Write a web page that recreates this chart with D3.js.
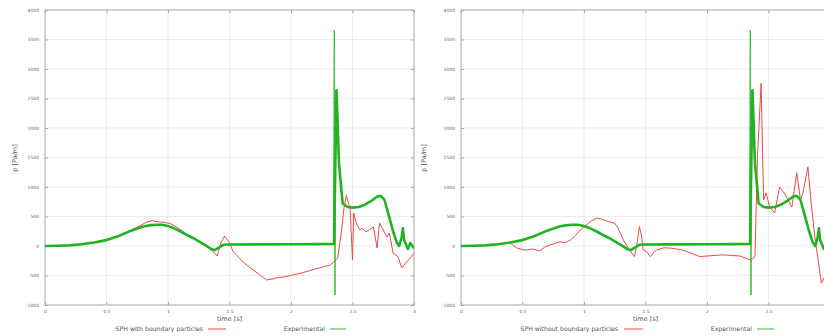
<!DOCTYPE html>
<html><head><meta charset="utf-8">
<script src="https://cdn.jsdelivr.net/npm/d3@7"></script>
<style>body{margin:0;background:#fff}svg{display:block}</style>
</head><body>
<script>
const xTicks = [0, 0.5, 1, 1.5, 2, 2.5, 3];
const xTickLabels = ["0", "0.5", "1", "1.5", "2", "2.5", "3"];
const yTicks = [-1000, -500, 0, 500, 1000, 1500, 2000, 2500, 3000, 3500, 4000];
const yTickLabels = ["-1000", "-500", "0", "500", "1000", "1500", "2000", "2500", "3000", "3500", "4000"];
const panelNames = ["SPH with boundary particles", "SPH without boundary particles"];
const expName = "Experimental";
const xTitle = "time [s]";
const yTitle = "p [Pa/m]";

// Experimental (shared by both panels)
const expT = [0,0.1,0.2,0.3,0.4,0.5,0.6,0.7,0.8,0.85,0.9,0.95,1.0,1.05,1.1,1.15,1.2,1.25,1.3,1.35,1.38,1.42,1.45,1.5,1.7,2.0,2.2,2.34,2.35,2.37,2.39,2.42,2.46,2.5,2.55,2.6,2.65,2.7,2.73,2.76,2.8,2.83,2.86,2.88,2.9,2.91,2.92,2.95,2.97,3.0];
const expP = [0,5,10,30,60,100,170,260,330,350,360,360,340,300,250,190,140,80,20,-50,-70,-20,20,25,28,30,32,35,35,2640,1400,720,660,650,660,700,760,840,850,780,480,250,60,0,150,300,100,-50,50,-40];
// Experimental raw spike samples (thin line)
const spikeT = [2.345, 2.352, 2.358, 2.364, 2.37];
const spikeP = [35, 3660, -830, 2640, 2640];

// SPH with boundary particles
const withT = [0,0.2,0.4,0.5,0.6,0.7,0.78,0.82,0.87,0.92,0.97,1.02,1.08,1.15,1.22,1.3,1.36,1.40,1.43,1.46,1.5,1.53,1.58,1.61,1.65,1.69,1.75,1.80,1.85,1.88,1.95,2.02,2.1,2.18,2.25,2.32,2.36,2.38,2.41,2.43,2.45,2.47,2.48,2.5,2.51,2.53,2.56,2.58,2.61,2.64,2.67,2.70,2.72,2.75,2.78,2.80,2.83,2.87,2.90,2.94,2.97,3.0];
const withP = [0,10,60,110,180,270,350,400,430,410,400,380,310,200,120,30,-80,-170,50,170,60,-100,-200,-270,-340,-400,-500,-575,-560,-540,-520,-490,-450,-400,-360,-320,-250,-200,240,640,860,700,660,-240,560,390,270,300,240,280,320,-35,390,270,150,220,-120,-180,-370,-270,-200,-120];

// SPH without boundary particles
const withoutT = [0,0.2,0.35,0.40,0.43,0.455,0.5,0.53,0.58,0.64,0.68,0.72,0.76,0.80,0.85,0.89,0.93,0.97,1.01,1.05,1.1,1.12,1.16,1.21,1.25,1.27,1.30,1.32,1.35,1.37,1.41,1.43,1.45,1.47,1.48,1.51,1.54,1.57,1.59,1.65,1.70,1.75,1.80,1.87,1.94,2.0,2.13,2.2,2.27,2.33,2.36,2.39,2.41,2.44,2.46,2.48,2.51,2.55,2.59,2.62,2.66,2.69,2.73,2.76,2.78,2.82,2.85,2.88,2.90,2.93,2.96,3.0];
const withoutP = [0,10,40,50,0,-35,-60,-70,-50,-85,-20,15,40,70,60,100,180,270,340,410,470,470,440,410,380,330,200,100,0,-70,-180,20,330,150,-60,-100,-180,-100,-70,-30,-35,-50,-70,-120,-180,-170,-150,-160,-170,-220,-240,-180,1500,2760,780,900,660,560,1000,920,780,660,1240,780,900,1340,660,100,-180,-630,-500,-300];

const W = 824, H = 336;
const svg = d3.select("body").append("svg").attr("width", W).attr("height", H)
  .style("font-family", "DejaVu Sans, sans-serif");

const panels = [
  {x0: 45, x1: 414, red: [withT, withP], name: panelNames[0], ylab: 17,
   legText: 203, legLine: [208, 226], expText: 325, expLine: [330, 346]},
  {x0: 461, x1: 830, red: [withoutT, withoutP], name: panelNames[1], ylab: 426,
   legText: 618, legLine: [624, 643], expText: 752, expLine: [757, 774]}
];
const yTop = 10, yBot = 305;

panels.forEach((p, i) => {
  const x = d3.scaleLinear().domain([0, 3]).range([p.x0, p.x1]);
  const y = d3.scaleLinear().domain([-1000, 4000]).range([yBot, yTop]);
  const g = svg.append("g");
  const cid = "clip" + i;
  svg.append("clipPath").attr("id", cid).append("rect")
    .attr("x", p.x0).attr("y", yTop).attr("width", p.x1 - p.x0).attr("height", yBot - yTop);

  // grid
  g.selectAll(".gx").data(xTicks.slice(1, -1)).join("line")
    .attr("x1", d => x(d)).attr("x2", d => x(d)).attr("y1", yTop).attr("y2", yBot)
    .attr("stroke", "#e4e4e4").attr("stroke-width", 0.7);
  g.selectAll(".gy").data(yTicks.slice(1, -1)).join("line")
    .attr("y1", d => y(d)).attr("y2", d => y(d)).attr("x1", p.x0).attr("x2", p.x1)
    .attr("stroke", "#e4e4e4").attr("stroke-width", 0.7);

  // axes (inward ticks, mirrored)
  const ax = d3.axisBottom(x).tickValues(xTicks).tickFormat((d, k) => xTickLabels[k]).tickSizeInner(-3).tickSizeOuter(0).tickPadding(5);
  const ay = d3.axisLeft(y).tickValues(yTicks).tickFormat((d, k) => yTickLabels[k]).tickSizeInner(-3).tickSizeOuter(0).tickPadding(6);
  const axT = d3.axisTop(x).tickValues(xTicks).tickFormat("").tickSizeInner(-3).tickSizeOuter(0);
  const ayR = d3.axisRight(y).tickValues(yTicks).tickFormat("").tickSizeInner(-3).tickSizeOuter(0);
  [[ax, `translate(0,${yBot})`], [ay, `translate(${p.x0},0)`], [axT, `translate(0,${yTop})`], [ayR, `translate(${p.x1},0)`]]
    .forEach(([a, tr]) => {
      const s = g.append("g").attr("transform", tr).call(a);
      s.select(".domain").remove();
      s.selectAll("line").attr("stroke", "#aaa");
      s.selectAll("text").attr("font-size", 4.5).attr("fill", "#666").attr("font-family", "DejaVu Sans, sans-serif");
    });
  // tick labels past the window edge are not visible in the reference
  g.selectAll(".tick").filter(d => xTicks.includes(d) && x(d) > W - 3).selectAll("text").remove();
  g.append("rect").attr("x", p.x0).attr("y", yTop).attr("width", p.x1 - p.x0).attr("height", yBot - yTop)
    .attr("fill", "none").attr("stroke", "#a8a8a8").attr("stroke-width", 1);

  const line = d3.line().x(d => x(d[0])).y(d => y(d[1]));
  const plot = g.append("g").attr("clip-path", `url(#${cid})`);
  plot.append("path").datum(d3.zip(spikeT, spikeP)).attr("d", line)
    .attr("fill", "none").attr("stroke", "#33c033").attr("stroke-width", 1);
  plot.append("path").datum(d3.zip(p.red[0], p.red[1])).attr("d", line)
    .attr("fill", "none").attr("stroke", "#f04848").attr("stroke-width", 1).attr("stroke-linejoin", "round");
  plot.append("path").datum(d3.zip(expT, expP)).attr("d", line)
    .attr("fill", "none").attr("stroke", "#22b322").attr("stroke-width", 2.6).attr("stroke-linejoin", "round");

  g.append("text").attr("x", (p.x0 + p.x1) / 2).attr("y", 321).attr("text-anchor", "middle")
    .attr("font-size", 6.5).attr("fill", "#555").text(xTitle);
  g.append("text").attr("transform", `translate(${p.ylab},158) rotate(-90)`).attr("text-anchor", "middle")
    .attr("font-size", 6.5).attr("fill", "#555").text(yTitle);

  g.append("text").attr("x", p.legText).attr("y", 331).attr("text-anchor", "end")
    .attr("font-size", 6.2).attr("fill", "#555").text(p.name);
  g.append("line").attr("x1", p.legLine[0]).attr("x2", p.legLine[1]).attr("y1", 329).attr("y2", 329)
    .attr("stroke", "#f04848").attr("stroke-width", 1);
  g.append("text").attr("x", p.expText).attr("y", 331).attr("text-anchor", "end")
    .attr("font-size", 6.2).attr("fill", "#555").text(expName);
  g.append("line").attr("x1", p.expLine[0]).attr("x2", p.expLine[1]).attr("y1", 329).attr("y2", 329)
    .attr("stroke", "#33c033").attr("stroke-width", 1);
});
</script>
</body></html>
